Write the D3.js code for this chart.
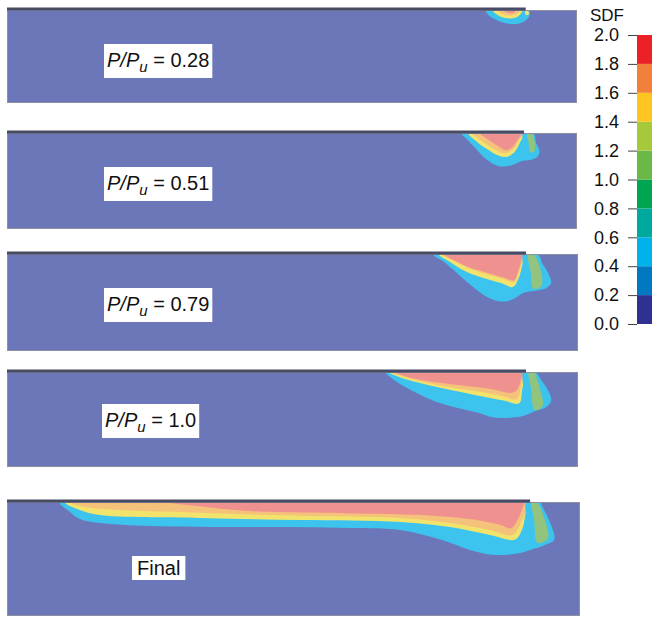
<!DOCTYPE html>
<html>
<head>
<meta charset="utf-8">
<script src="https://cdn.jsdelivr.net/npm/d3@7"></script>
<style>
  body { margin: 0; background: #fff; }
  svg { display: block; font-family: "Liberation Sans", Arial, sans-serif; }
</style>
</head>
<body>
<svg width="652" height="619"></svg>
<script>
// ---- data ----
// colour bar
const sdfTicks = [0, 0.2, 0.4, 0.6, 0.8, 1.0, 1.2, 1.4, 1.6, 1.8, 2.0];
const sdfColors = ['#2e3192', '#0079c0', '#00b2ec', '#00a99d', '#00a551',
                   '#6cb846', '#a6c83b', '#fec520', '#f1813a', '#ec2027'];

// load steps (null = final state)
const loadRatios = ['0.28', '0.51', '0.79', '1.0', null];

// end of loading plate, % of span
const plateEnd = [91.0, 90.7, 90.9, 90.9, 91.3];

// damage zones, [x % of span, depth % of beam height], one polygon per panel
const cyanZone = [
  [[84.0,0],[84.4,5],[85.6,10],[87.3,14],[89.3,15],[90.8,12],[91.6,7],[91.7,2],[91.4,0]],
  [[79.8,0],[80.8,7],[82.2,16],[83.8,26],[85.6,33],[86.8,35],[88.8,33],[90.5,29],[91.8,28],[93.0,25],[93.4,19],[92.8,10],[92.3,0]],
  [[74.6,0],[76.5,8],[78.5,18],[81.2,32],[84.0,44],[86.5,49],[88.5,47],[90.5,40],[92.5,38],[94.5,35],[95.3,30],[94.8,20],[93.8,10],[92.8,0]],
  [[66.3,0],[67.5,7],[69.5,15],[72,23],[75,31],[79,38],[82.5,43],[85.3,48],[88.5,48],[90.5,46],[92.5,41],[94.4,37],[95.3,30],[94.8,20],[93.6,9],[92.4,0]],
  [[9.2,0],[11,8.8],[12.7,15],[16.2,18.4],[25,21],[42.4,22],[59.9,22.8],[68.6,24.6],[75.6,33],[80.8,42],[85.2,46.5],[89.5,44.7],[91.3,42],[93.9,37.7],[95.5,33],[94.6,16],[93.4,4],[93.0,0]]
];
const yellowZone = [
  [[85.2,0],[86.0,5],[87.4,8.5],[89.0,8.5],[90.0,5],[90.4,0]],
  [[80.9,0],[82.2,8],[84.0,16],[86.0,23],[87.6,25],[89.0,20],[90.0,10],[90.6,0]],
  [[75.6,0],[77.5,8],[80.0,17],[83.0,24],[86.5,30],[88.6,34],[89.6,25],[90.2,12],[90.6,0]],
  [[66.9,0],[69.0,6],[72.0,11],[75.5,16],[79.5,21],[83.5,26],[87.0,30],[89.7,33],[90.2,20],[90.5,8],[90.7,0]],
  [[10.1,0],[12.7,7],[16.2,11.4],[33.7,14],[51.1,15.8],[68.6,17.5],[77.3,22],[84.3,29],[88.7,33],[89.9,24],[90.5,10],[90.8,0]]
];
const orangeZone = [
  [[86.2,0],[87.0,4.5],[88.4,6],[89.6,3.5],[89.9,0]],
  [[81.7,0],[83.0,7],[85.0,15],[87.2,21],[88.8,17],[89.8,8],[90.4,0]],
  [[76.2,0],[78.2,7],[81.0,15],[84.0,21],[87.0,26],[88.8,29],[89.6,20],[90.2,8],[90.5,0]],
  [[67.4,0],[70,6],[74,12],[78,16.5],[82.5,20.5],[86.5,25],[89.3,28.5],[90.0,15],[90.5,0]],
  [[11,0],[13,4],[16.2,6],[33.7,9.5],[51.1,12],[68.6,14],[77.3,18.4],[84.3,24.6],[88.2,29],[89.7,18],[90.5,0]]
];
const pinkZone = [
  [[87.0,0],[87.8,3],[88.9,3],[89.4,0]],
  [[83.0,0],[84.2,6],[86.0,13],[87.5,18],[88.6,15],[89.6,7],[90.3,0]],
  [[76.6,0],[78.5,7],[81.0,14],[84.0,19],[86.8,24],[88.8,27],[89.5,18],[90.1,6],[90.3,0]],
  [[68.0,0],[70,5],[74.2,10],[79.5,14],[84.7,18],[88.3,22],[89.3,19],[90.0,8],[90.3,0]],
  [[28,0],[35,4.5],[42.4,8],[59.9,10],[72,11.4],[80.8,15],[86,20],[88.0,23],[89.5,11.4],[90.3,1],[90.4,0]]
];
// crack under the plate edge: open gap, then a greenish band
const crackGap = [
  null,
  [[90.5,0],[91.3,0],[91.5,14],[91.0,22],[90.6,12]],
  [[90.4,0],[91.3,0],[91.6,20],[91.3,36],[90.6,20]],
  [[90.4,0],[91.3,0],[91.6,20],[91.2,42],[90.6,22]],
  [[90.6,0],[91.5,0],[91.8,18],[91.2,40],[90.8,20]]
];
const crackBand = [
  [[90.9,1],[91.5,1.5],[91.5,5],[91.0,5]],
  [[91.3,0],[92.0,0],[92.6,10],[92.5,19],[91.8,20],[91.5,10]],
  [[91.3,0],[92.2,0],[93.4,15],[93.6,33],[92.2,36],[91.7,18]],
  [[91.4,0],[92.2,0],[93.2,15],[93.8,36],[92.4,40],[91.8,18]],
  [[91.6,0],[92.4,0],[93.8,15],[94.4,32],[92.6,36],[92.0,16]]
];

// ---- layout ----
const panels = [
  { x: 7, y: 10,  w: 570, h: 93,  tx: 100, ty: 57 },
  { x: 7, y: 133, w: 570, h: 96,  tx: 100, ty: 57 },
  { x: 7, y: 254, w: 571, h: 97,  tx: 100, ty: 57 },
  { x: 7, y: 372, w: 571, h: 95,  tx: 98,  ty: 55 },
  { x: 7, y: 502, w: 573, h: 114, tx: 130, ty: 73 }
];

const bg = '#6b77b8';
const zoneColors = { cyan: '#3cc4ef', yellow: '#f2e36c', orange: '#f5c27c', pink: '#ef918e', band: '#93c47d' };

const svg = d3.select('svg');
svg.append('rect').attr('width', 652).attr('height', 619).attr('fill', '#fff');

panels.forEach((p, i) => {
  const xs = d3.scaleLinear().domain([0, 100]).range([0, p.w]);
  const ys = d3.scaleLinear().domain([0, 100]).range([0, p.h]);
  const line = d3.line().x(d => xs(d[0])).y(d => ys(d[1])).curve(d3.curveCatmullRomClosed);

  const g = svg.append('g').attr('transform', `translate(${p.x},${p.y})`);
  g.append('clipPath').attr('id', `clip${i}`)
    .append('rect').attr('width', p.w).attr('height', p.h);

  g.append('rect').attr('width', p.w).attr('height', p.h).attr('fill', bg);

  const zones = g.append('g').attr('clip-path', `url(#clip${i})`);
  [[cyanZone, zoneColors.cyan], [yellowZone, zoneColors.yellow],
   [orangeZone, zoneColors.orange], [pinkZone, zoneColors.pink],
   [crackGap, zoneColors.cyan], [crackBand, i === 0 ? zoneColors.yellow : zoneColors.band]]
    .forEach(([arr, col]) => {
      if (!arr[i]) return;
      zones.append('path').attr('d', line(arr[i])).attr('fill', col);
    });

  // outline
  g.append('rect').attr('x', 0.5).attr('y', 0.5).attr('width', p.w - 1).attr('height', p.h - 1)
    .attr('fill', 'none').attr('stroke', '#8e90a0').attr('stroke-width', 1);

  // loading plate
  g.append('rect').attr('x', 0).attr('y', -2.5)
    .attr('width', xs(plateEnd[i])).attr('height', 3)
    .attr('fill', '#474b63');

  // label
  const t = g.append('text').attr('x', p.tx).attr('y', p.ty)
    .attr('font-size', 20).attr('fill', '#111');
  if (loadRatios[i] !== null) {
    t.append('tspan').attr('font-style', 'italic').text('P/P');
    t.append('tspan').attr('font-style', 'italic').attr('font-size', 15).attr('dy', 5).text('u');
    t.append('tspan').attr('dy', -5).text(' = ' + loadRatios[i]);
  } else {
    t.text('Final');
  }
  const bb = t.node().getBBox();
  const padX = loadRatios[i] !== null ? 3 : 5;
  const padT = loadRatios[i] !== null ? 5 : 1;
  const padB = loadRatios[i] !== null ? 3 : 1;
  g.insert('rect', 'text')
    .attr('x', bb.x - padX).attr('y', bb.y - padT)
    .attr('width', bb.width + 2 * padX).attr('height', bb.height + padT + padB)
    .attr('fill', '#fff');
});

// ---- colour bar ----
const cy = d3.scaleLinear().domain([0, 2]).range([324, 35]);
const cb = svg.append('g').attr('transform', 'translate(637,0)');
cb.selectAll('rect').data(sdfColors).join('rect')
  .attr('x', 0).attr('width', 20)
  .attr('y', (d, k) => cy(sdfTicks[k + 1]))
  .attr('height', (d, k) => cy(sdfTicks[k]) - cy(sdfTicks[k + 1]))
  .attr('fill', d => d);

const axis = cb.append('g')
  .call(d3.axisLeft(cy).tickValues(sdfTicks).tickFormat(d3.format('.1f')).tickSize(9).tickPadding(9));
axis.select('.domain').remove();
axis.selectAll('line').attr('stroke', '#444');
axis.selectAll('text').attr('font-size', 18).attr('fill', '#111')
  .attr('font-family', '"Liberation Sans", Arial, sans-serif');

svg.append('text').attr('x', 607).attr('y', 21).attr('text-anchor', 'middle')
  .attr('font-size', 17).attr('fill', '#111').text('SDF');
</script>
</body>
</html>
